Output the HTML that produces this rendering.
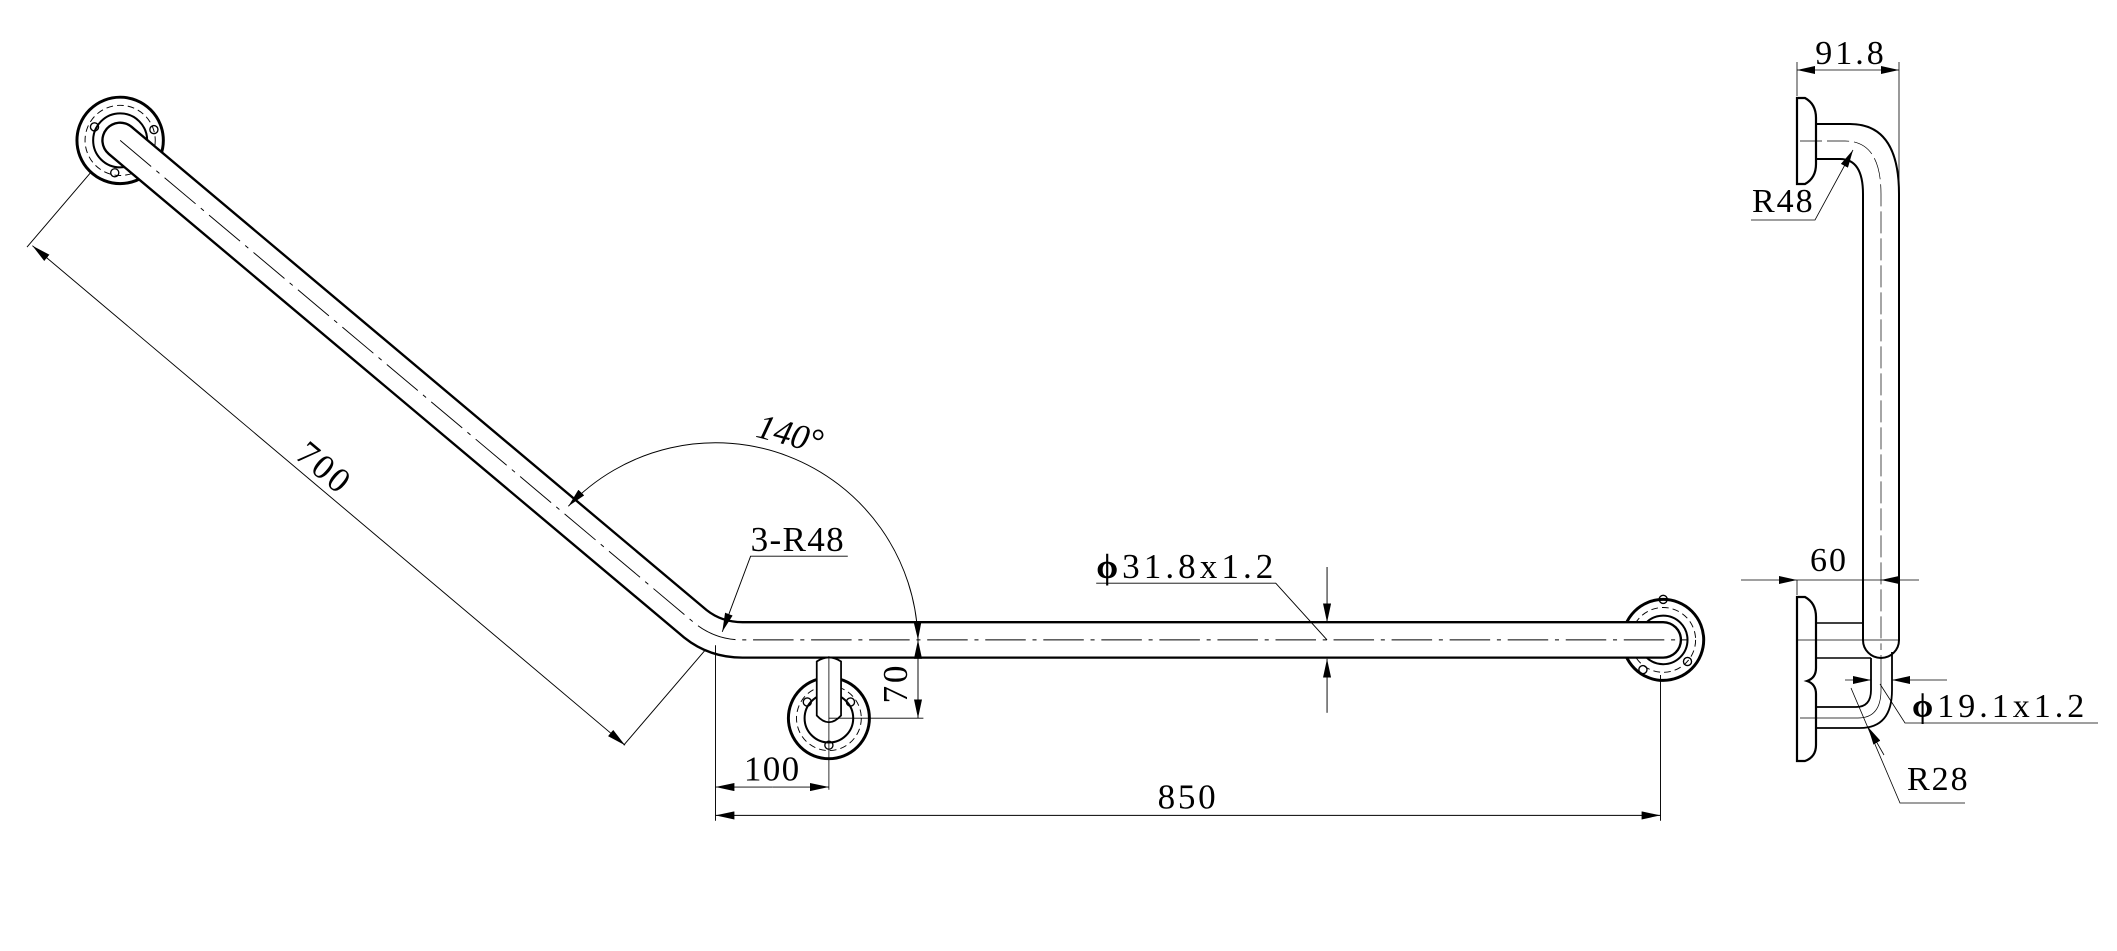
<!DOCTYPE html>
<html><head><meta charset="utf-8"><style>
html,body{margin:0;padding:0;background:#fff;}
svg{display:block;}
text{font-family:"Liberation Serif","Noto Serif CJK SC",serif;fill:#000;}
</style></head><body>
<svg width="2117" height="951" viewBox="0 0 2117 951" xmlns="http://www.w3.org/2000/svg">
<defs>
<marker id="a" viewBox="0 0 14 6" refX="14" refY="3" markerWidth="14" markerHeight="6" markerUnits="userSpaceOnUse" orient="auto-start-reverse"><path d="M0,0 L14,3 L0,6 Z" fill="#000"/></marker>
<marker id="b" viewBox="0 0 18 8" refX="18" refY="4" markerWidth="18" markerHeight="8" markerUnits="userSpaceOnUse" orient="auto-start-reverse"><path d="M0,0 L18,4 L0,8 Z" fill="#000"/></marker>
</defs>

<g transform="scale(1.35)">
<g fill="none" stroke="#000">
 <circle cx="89" cy="104" r="32" stroke-width="2.2"/>
 <circle cx="89" cy="104" r="26" stroke-width="0.7" stroke-dasharray="5,3"/>
 <circle cx="89" cy="104" r="20" stroke-width="1.5"/>
 <circle cx="1232" cy="474" r="30" stroke-width="2.2"/>
 <circle cx="1232" cy="474" r="24" stroke-width="0.7" stroke-dasharray="5,3"/>
 <circle cx="1232" cy="474" r="18" stroke-width="1.5"/>
 <circle cx="614" cy="532" r="30" stroke-width="2.2"/>
 <circle cx="614" cy="532" r="24" stroke-width="0.7" stroke-dasharray="5,3"/>
 <circle cx="614" cy="532" r="18" stroke-width="1.5"/>
 <circle cx="70" cy="94" r="3" stroke-width="1"/><circle cx="114" cy="96" r="3" stroke-width="1"/><circle cx="85" cy="128" r="3" stroke-width="1"/>
 <circle cx="1217" cy="496" r="3" stroke-width="1"/><circle cx="1250" cy="490" r="3" stroke-width="1"/><circle cx="1232" cy="444" r="3" stroke-width="1"/>
 <circle cx="598" cy="520" r="3" stroke-width="1"/><circle cx="630" cy="520" r="3" stroke-width="1"/><circle cx="614" cy="552" r="3" stroke-width="1"/>
</g>
<path d="M89,104 L515,462 Q530,474 550,474 L1232,474" fill="none" stroke="#000" stroke-width="28" stroke-linecap="round"/>
<path d="M89,104 L515,462 Q530,474 550,474 L1232,474" fill="none" stroke="#fff" stroke-width="24.5" stroke-linecap="round"/>
<path d="M89,104 L515,462 Q530,474 550,474 L1250,474" fill="none" stroke="#000" stroke-width="0.7" stroke-dasharray="30,5,3,5"/>
<path d="M605,520 L605,490 Q614,484 623,490 L623,530 Q614,540 605,530 Z" fill="#fff" stroke="#000" stroke-width="1.3"/>
<line x1="614" y1="486" x2="614" y2="585" stroke="#000" stroke-width="0.6"/>
<g stroke="#000" stroke-width="0.7" fill="none">
 <line x1="67" y1="128" x2="20" y2="183"/>
 <line x1="522" y1="482" x2="462" y2="552"/>
 <line x1="24" y1="182" x2="463" y2="552" marker-start="url(#a)" marker-end="url(#a)"/>
 <path d="M421,375 A150,150 0 0 1 680,474" marker-start="url(#a)" marker-end="url(#a)"/>
 <polyline points="628,412 556,412 535,468" marker-end="url(#a)"/>
 <polyline points="812,432 945,432 983,474"/>
 <line x1="983" y1="420" x2="983" y2="461" marker-end="url(#a)"/>
 <line x1="983" y1="528" x2="983" y2="488" marker-end="url(#a)"/>
 <line x1="614" y1="532" x2="684" y2="532"/>
 <line x1="680" y1="500" x2="680" y2="474" marker-end="url(#a)"/>
 <line x1="680" y1="500" x2="680" y2="532" marker-end="url(#a)"/>
 <line x1="530" y1="478" x2="530" y2="608"/>
 <line x1="1230" y1="500" x2="1230" y2="608"/>
 <line x1="572" y1="583" x2="530" y2="583" marker-end="url(#a)"/>
 <line x1="572" y1="583" x2="614" y2="583" marker-end="url(#a)"/>
 <line x1="880" y1="604" x2="530" y2="604" marker-end="url(#a)"/>
 <line x1="880" y1="604" x2="1230" y2="604" marker-end="url(#a)"/>
</g>
<text x="240" y="355" font-size="26" letter-spacing="2" text-anchor="middle" transform="rotate(40 240 347)">700</text>
<text x="585" y="330" font-size="26" text-anchor="middle" font-style="italic" transform="rotate(15 585 322)">140°</text>
<text x="556" y="408" font-size="26" letter-spacing="1">3-R48</text>
<text x="812" y="428" font-size="26" letter-spacing="3"><tspan font-weight="bold">ϕ</tspan>31.8x1.2</text>
<text x="672" y="506" font-size="26" letter-spacing="2" text-anchor="middle" transform="rotate(-90 672 506)">70</text>
<text x="572" y="578" font-size="26" letter-spacing="1" text-anchor="middle">100</text>
<text x="880" y="599" font-size="26" letter-spacing="2" text-anchor="middle">850</text>
</g>

<g fill="none" stroke="#000">
 <path d="M1797,98 L1805,98 Q1816,104 1816,118 L1816,164 Q1816,178 1805,184 L1797,184 Z" stroke-width="2.2" fill="#fff"/>
 <path d="M1816,124 L1850,124 Q1899,124 1899,194 L1899,640 A18,18 0 0 1 1863,640 L1863,194 Q1863,159 1840,159 L1816,159" stroke-width="2"/>
 <path d="M1800,141 L1845,141 Q1881,141 1881,194 L1881,650" stroke-width="0.7" stroke-dasharray="22,5"/>
 <path d="M1797,597 L1805,597 Q1816,603 1816,617 L1816,668 Q1816,678 1807,681 Q1816,684 1816,694 L1816,745 Q1816,757 1805,761 L1797,761 Z" stroke-width="2.2" fill="#fff"/>
 <line x1="1816" y1="623" x2="1863" y2="623" stroke-width="1.5"/>
 <line x1="1797" y1="640" x2="1899" y2="640" stroke-width="0.7"/>
 <line x1="1816" y1="658" x2="1871" y2="658" stroke-width="1.5"/>
 <path d="M1892,652 L1892,690 Q1892,728 1860,728 L1816,728" stroke-width="1.8"/>
 <path d="M1871,658 L1871,690 Q1871,707 1856,707 L1816,707" stroke-width="1.8"/>
 <path d="M1881,655 L1881,690 Q1881,718 1858,718 L1800,718" stroke-width="0.7"/>
 <line x1="1797" y1="96" x2="1797" y2="62" stroke-width="0.8"/>
 <line x1="1899" y1="194" x2="1899" y2="62" stroke-width="0.8"/>
 <line x1="1851" y1="70" x2="1797" y2="70" stroke-width="0.8" marker-end="url(#b)"/>
 <line x1="1851" y1="70" x2="1899" y2="70" stroke-width="0.8" marker-end="url(#b)"/>
 <polyline points="1751,220 1815,220 1853,150" stroke-width="0.8" marker-end="url(#b)"/>
 <line x1="1741" y1="580" x2="1797" y2="580" stroke-width="0.8" marker-end="url(#b)"/>
 <line x1="1919" y1="580" x2="1881" y2="580" stroke-width="0.8" marker-end="url(#b)"/>
 <line x1="1797" y1="580" x2="1881" y2="580" stroke-width="0.8"/>
 <line x1="1797" y1="580" x2="1797" y2="595" stroke-width="0.8"/>
 <line x1="1845" y1="680" x2="1871" y2="680" stroke-width="0.8" marker-end="url(#b)"/>
 <line x1="1947" y1="680" x2="1892" y2="680" stroke-width="0.8" marker-end="url(#b)"/>
 <polyline points="2098,723 1905,723 1880,684" stroke-width="0.8"/>
 <polyline points="1965,803 1900,803 1851,688" stroke-width="0.8"/>
 <line x1="1884" y1="755" x2="1868" y2="727" stroke-width="0.8" marker-end="url(#b)"/>
</g>
<text x="1851" y="64" font-size="34" letter-spacing="3" text-anchor="middle">91.8</text>
<text x="1752" y="212" font-size="34" letter-spacing="2">R48</text>
<text x="1810" y="571" font-size="34" letter-spacing="2">60</text>
<text x="1912" y="717" font-size="34" letter-spacing="4"><tspan font-weight="bold">ϕ</tspan>19.1x1.2</text>
<text x="1907" y="790" font-size="34" letter-spacing="2">R28</text>
</svg>
</body></html>
